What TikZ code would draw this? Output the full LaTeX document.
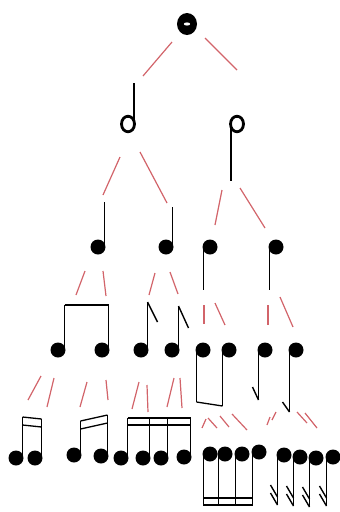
\documentclass[tikz,border=0pt]{standalone}
\usepackage{tikz}
\usepackage{xcolor}
\usetikzlibrary{shapes.geometric, positioning}
\definecolor{linkred}{RGB}{210,100,106}

\begin{document}
\begin{tikzpicture}[
    x=1pt, y=-1pt,
    head/.style={circle, fill=black, inner sep=0pt, outer sep=0pt, minimum size=15pt},
    halfhead/.style={ellipse, draw, line width=2.8pt, inner sep=0pt, outer sep=0pt, minimum width=13pt, minimum height=15.5pt},
    stem/.style={line width=1.7pt},
    beam/.style={line width=1.3pt},
    flag/.style={line width=1.4pt},
    link/.style={draw=linkred, line width=1.2pt}
]
    \useasboundingbox (0,0) rectangle (340,512);

    % Whole note
    \node[ellipse, fill=black, inner sep=0pt, minimum width=20pt, minimum height=22pt] (w) at (187,24) {};
    \fill[white] (w.center) ellipse (3.2 and 1.6);

    % Half notes
    \node[halfhead] (h1) at (128,124) {};
    \node[halfhead] (h2) at (237,124) {};
    \draw[stem] ([xshift=-0.8pt]h1.east) -- ++(0,-41);
    \draw[stem] ([xshift=0.8pt]h2.west) -- ++(0,57);

    % Quarter notes
    \node[head] (q1) at (98,247) {};
    \node[head] (q2) at (166,247) {};
    \node[head] (q3) at (210,247) {};
    \node[head] (q4) at (276,247) {};
    \draw[stem] ([xshift=-1pt]q1.east) -- ++(0,-45);
    \draw[stem] ([xshift=-1pt]q2.east) -- ++(0,-40);
    \draw[stem] ([xshift=1pt]q3.west) -- ++(0,43);
    \draw[stem] ([xshift=1pt]q4.west) -- ++(0,43);

    % Eighth notes
    \node[head] (e1) at (58,350) {};
    \node[head] (e2) at (102,350) {};
    \node[head] (e3) at (141,350) {};
    \node[head] (e4) at (172,350) {};
    \node[head] (e5) at (203,350) {};
    \node[head] (e6) at (229,350) {};
    \node[head] (e7) at (265,350) {};
    \node[head] (e8) at (296,350) {};
    \foreach \n/\len in {e1/45, e2/45, e3/48, e4/44}
        \draw[stem] ([xshift=-1pt]\n.east) -- ++(0,-\len) coordinate (\n-t);
    \foreach \n/\len in {e5/52, e6/56, e7/50, e8/62}
        \draw[stem] ([xshift=1pt]\n.west) -- ++(0,\len) coordinate (\n-b);
    \draw[beam] (e1-t) -- (e2-t);
    \draw[flag] (e3-t) -- ++(10,20);
    \draw[flag] (e4-t) -- ++(10,22);
    \draw[beam] (e5-b) -- (e6-b);
    \draw[flag] (e7-b) -- ++(-6,-13);
    \draw[flag] (e8-b) -- ++(-7,-10);

    % Sixteenth notes, stems up
    \foreach \n/\x/\y/\len in {s1/16/458/41, s2/35/458/39, s3/74/455/34, s4/101/456/41,
                               s5/121/458/40, s6/143/458/40, s7/161/458/40, s8/184/457/39} {
        \node[head] (\n) at (\x,\y) {};
        \draw[stem] ([xshift=-1pt]\n.east) -- ++(0,-\len) coordinate (\n-t);
    }
    \draw[beam] (s1-t) -- (s2-t);
    \draw[beam] ([yshift=-8pt]s1-t) -- ([yshift=-8pt]s2-t);
    \draw[beam] (s3-t) -- (s4-t);
    \draw[beam] ([yshift=-8pt]s3-t) -- ([yshift=-8pt]s4-t);
    \draw[beam] (s5-t) -- (s8-t);
    \draw[beam] ([yshift=-7pt]s5-t) -- ([yshift=-7pt]s8-t);

    % Sixteenth notes, stems down
    \foreach \n/\x/\y/\len in {d1/210/454/52, d2/225/454/52, d3/242/454/52, d4/259/452/54,
                               d5/284/455/50, d6/300/457/49, d7/316/458/49, d8/333/457/49} {
        \node[head] (\n) at (\x,\y) {};
        \draw[stem] ([xshift=1pt]\n.west) -- ++(0,\len) coordinate (\n-b);
    }
    \draw[beam] ([yshift=1pt]d1-b) -- ([yshift=1pt]d4-b);
    \draw[beam] ([yshift=8pt]d1-b) -- ([yshift=8pt]d4-b);
    \foreach \n in {d5, d6, d7, d8} {
        \draw[flag] (\n-b) -- ++(-7,-12);
        \draw[flag] ([yshift=8pt]\n-b) -- ++(-7,-12);
    }

    % Red division links
    \foreach \ax/\ay/\bx/\by in {172/42/143/76, 205/38/237/70,
        120/157/103/195, 140/152/167/203, 222/190/215/225, 240/188/265/228,
        85/271/76/295, 103/271/106/296, 155/273/149/295, 170/272/178/294,
        204/305/204/324, 215/303/225/325, 268/305/268/325, 280/297/293/327,
        41/376/28/400, 54/378/47/407, 87/382/80/407, 106/380/108/400,
        139/382/132/409, 147/385/148/412, 174/378/167/407, 180/378/182/408,
        202/428/206/419, 208/418/217/428, 220/416/229/427, 232/414/247/430,
        267/425/270/417, 272/420/276/412, 297/412/307/423, 305/413/317/428}
        \draw[link] (\ax,\ay) -- (\bx,\by);
\end{tikzpicture}
\end{document}
